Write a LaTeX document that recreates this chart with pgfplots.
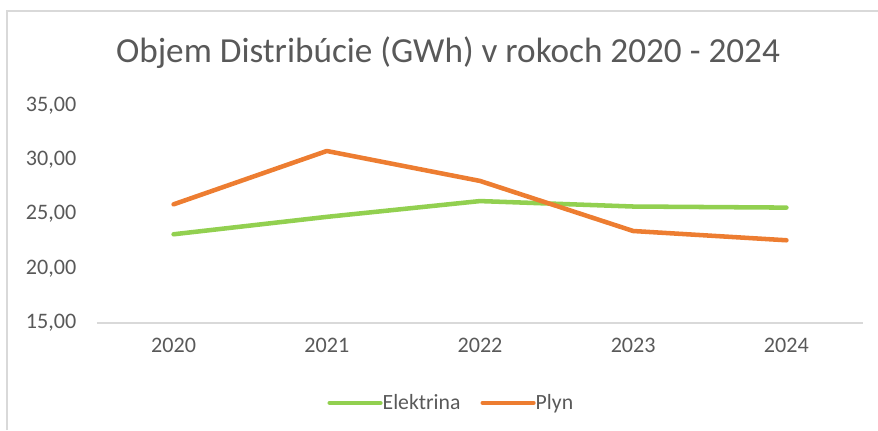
\documentclass[border=0pt]{standalone}
\usepackage{fontspec}
\setmainfont{Carlito}
\usepackage{pgfplots}
\pgfplotsset{compat=1.18}
\definecolor{elgreen}{HTML}{92D050}
\definecolor{plorange}{HTML}{ED7D31}
\definecolor{txtgray}{HTML}{595959}
\definecolor{axgray}{HTML}{D9D9D9}
\begin{document}
\begin{tikzpicture}
\useasboundingbox (0,0) rectangle (658.5pt,322.5pt);
\draw[axgray, line width=1pt] (5.25pt,0) -- (5.25pt,314.25pt) -- (658.5pt,314.25pt);
\node[txtgray, font=\fontsize{26.4}{30}\selectfont] at (336pt,283pt) {Objem Distribúcie (GWh) v rokoch 2020 - 2024};
\begin{axis}[
  at={(72.75pt,80.25pt)}, anchor=south west,
  scale only axis, width=574.5pt, height=163.3pt,
  xmin=-0.5, xmax=4.5, ymin=15, ymax=35,
  xtick={0,1,2,3,4}, xticklabels={2020,2021,2022,2023,2024},
  ytick={15,20,25,30,35},
  axis x line*=bottom, axis y line*=left,
  x axis line style={axgray, line width=1pt, -},
  y axis line style={draw=none},
  major tick length=0pt,
  tick label style={txtgray, font=\fontsize{16.6}{19}\selectfont},
  yticklabel style={xshift=-12pt},
  xticklabel style={yshift=-8pt},
  /pgf/number format/.cd, fixed, fixed zerofill, precision=2, use comma, assume math mode=true,
  /pgfplots/.cd,
  legend columns=2,
  legend style={at={(0.463,-0.367)}, anchor=center, draw=none, fill=none,
    font=\fontsize{16.3}{19}\selectfont, text=txtgray,
    /tikz/every even column/.append style={column sep=13pt},
    /tikz/every odd column/.append style={column sep=-2pt}},
  legend image code/.code={\draw[#1, line cap=round] (0pt,0pt) -- (38pt,0pt);},
  clip=false,
]
\addplot[elgreen, line width=3.4pt, line cap=round, line join=round] coordinates {(0,23.15) (1,24.75) (2,26.2) (3,25.7) (4,25.6)};
\addlegendentry{Elektrina}
\addplot[plorange, line width=3.4pt, line cap=round, line join=round] coordinates {(0,25.9) (1,30.8) (2,28.05) (3,23.45) (4,22.6)};
\addlegendentry{Plyn}
\end{axis}
\end{tikzpicture}
\end{document}
